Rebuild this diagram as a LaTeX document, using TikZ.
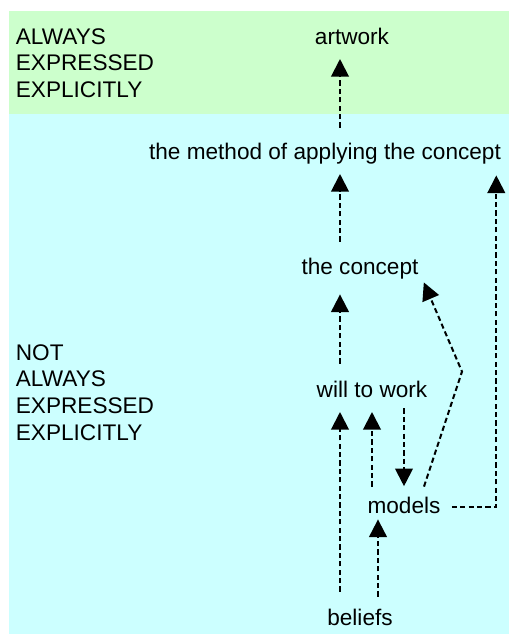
\documentclass[tikz,border=0pt]{standalone}
\usepackage{fontspec}
\setmainfont{Liberation Sans}
\usetikzlibrary{arrows.meta,calc}
\definecolor{EXPL_COLOR}{HTML}{CCFFCC}
\definecolor{IMPL_COLOR}{HTML}{CCFFFF}
\tikzstyle{txt} = [inner sep=0pt, text height=8.2pt, text depth=2.3pt, font=\fontsize{11.3}{13}\selectfont]
\tikzstyle{side} = [txt, anchor=base west]
\tikzstyle{flow} = [-{Triangle[length=8.8pt,width=8.8pt]}, line width=1pt, dash pattern=on 2.6pt off 1.6pt, shorten <=6pt, shorten >=5pt]

\begin{document}
\begin{tikzpicture}[x=0.5pt,y=-0.5pt]
      \useasboundingbox (0,0) rectangle (509,634);
      %%%%%%%%%%%%%%%%%%%%%%%%%%%%%%%%%%%%%%%%%%%%%%%%%
      % BANDS
      %%%%%%%%%%%%%%%%%%%%%%%%%%%%%%%%%%%%%%%%%%%%%%%%%
      \fill[EXPL_COLOR] (9,11) rectangle (509,114);
      \fill[IMPL_COLOR] (9,114) rectangle (509,634);

      \foreach \w [count=\i] in {ALWAYS,EXPRESSED,EXPLICITLY}
        \node[side] (TOP\i) at (15.5,{44+26.5*(\i-1)}) {\w};
      \foreach \w [count=\i] in {NOT,ALWAYS,EXPRESSED,EXPLICITLY}
        \node[side] (LOW\i) at (15.5,{360+26.7*(\i-1)}) {\w};

      %%%%%%%%%%%%%%%%%%%%%%%%%%%%%%%%%%%%%%%%%%%%%%%%%
      % STAGES
      %%%%%%%%%%%%%%%%%%%%%%%%%%%%%%%%%%%%%%%%%%%%%%%%%
      \node[txt] (ART)  at (352,38.1)  {artwork};
      \node[txt] (METH) at (325,153.1) {the method of applying the concept};
      \node[txt] (CONC) at (360,268.1) {the concept};
      \node[txt] (WILL) at (372,391.1) {will to work};
      \node[txt] (MOD)  at (404,507.1) {models};
      \node[txt] (BEL)  at (360,619.1) {beliefs};

      % main column
      \draw[flow, shorten <=7.3pt] ($(METH.north)+(15,0)$) -- ($(ART.south)+(-12,0)$);
      \draw[flow, shorten <=7.8pt] ($(CONC.north)+(-20,0)$) -- ($(METH.south)+(15,0)$);
      \draw[flow, shorten <=8.3pt, shorten >=7.7pt] ($(WILL.north)+(-32,0)$) -- ($(CONC.south)+(-20,0)$);
      \draw[flow, shorten <=8.3pt] ($(BEL.north)+(-20,0)$) -- ($(WILL.south)+(-32,0)$);

      % models loop
      \draw[flow, shorten <=4.8pt] ($(MOD.north)+(-32,0)$) -- (WILL.south);
      \draw[flow, shorten <=3.2pt] (WILL.south -| MOD.north) -- (MOD.north);
      \draw[flow, shorten <=5.8pt, shorten >=0.7pt] ($(BEL.north)+(18,0)$) -- ($(MOD.south)+(-26,0)$);
      \draw[flow, shorten <=0pt, shorten >=0pt] ($(MOD.north)+(20,-9.6)$) -- ++(38,-115) -- ($(CONC.south east)+(5,3.4)$);
      \draw[flow, shorten <=5.5pt, shorten >=0pt] (MOD.east) -| ($(METH.south east)+(-5,11.4)$);
\end{tikzpicture}
\end{document}
